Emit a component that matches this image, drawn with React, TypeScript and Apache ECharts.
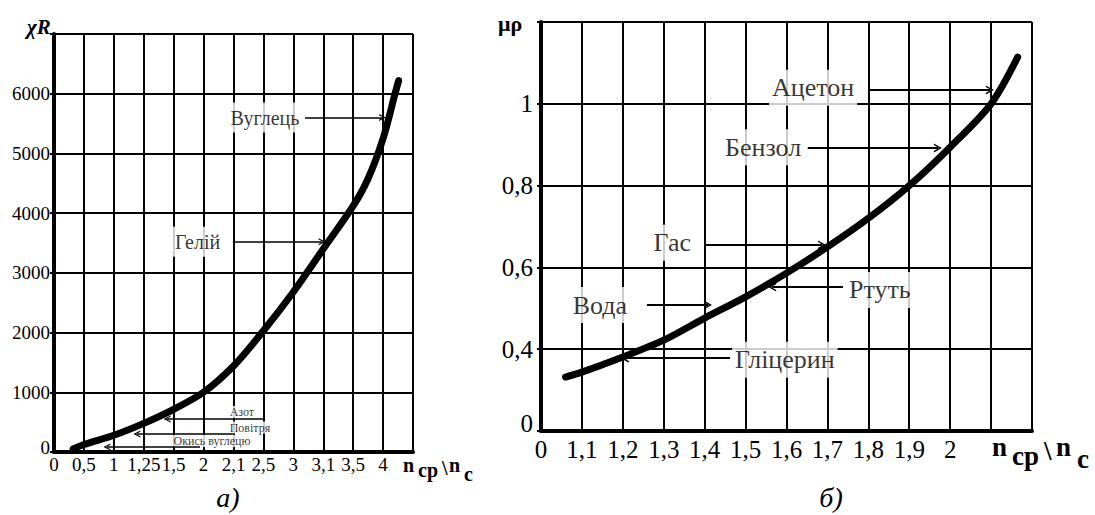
import React, { useEffect, useRef } from 'react';
import * as echarts from 'echarts';

const SERIF = '"Liberation Serif", "Times New Roman", serif';

// ---------- panel a) ----------
const leftTickLabels = ['0', '0,5', '1', '1,25', '1,5', '2', '2,1', '2,5', '3', '3,1', '3,5', '4', ''];
const leftCurveX = [0.64, 1, 2, 3, 4, 5, 6, 7, 8, 9, 10, 10.5, 11, 11.4, 11.52];
const leftCurveY = [50, 125, 280, 480, 715, 1000, 1440, 2030, 2680, 3400, 4120, 4580, 5250, 6000, 6220];
// [name, x, y, fontSize]
const leftNotes: [string, number, number, number][] = [
  ['Вуглець', 7.05, 5600, 20],
  ['Гелій', 4.8, 3520, 20],
  ['Азот', 6.28, 670, 12],
  ['Повітря', 6.55, 410, 12],
  ['Окись вуглецю', 5.28, 185, 12],
];
// [tailX, tipX, y]
const leftArrows: [number, number, number][] = [
  [8.39, 10.98, 5600],
  [5.98, 8.96, 3520],
  [7.05, 3.78, 553],
  [5.98, 2.77, 301],
  [4.88, 1.77, 84],
];

// ---------- panel б) ----------
const rightCurveX = [1.06, 1.1, 1.2, 1.3, 1.4, 1.5, 1.6, 1.7, 1.8, 1.9, 2.0, 2.1, 2.165];
const rightCurveY = [0.332, 0.344, 0.381, 0.422, 0.476, 0.528, 0.586, 0.65, 0.72, 0.8, 0.894, 1.0, 1.114];
const rightNotes: [string, number, number, number][] = [
  ['Ацетон', 1.665, 1.039, 26],
  ['Бензол', 1.543, 0.894, 26],
  ['Гас', 1.321, 0.66, 26],
  ['Ртуть', 1.828, 0.545, 26],
  ['Вода', 1.144, 0.508, 26],
  ['Гліцерин', 1.596, 0.374, 26],
];
const rightArrows: [number, number, number][] = [
  [1.804, 2.097, 1.034],
  [1.652, 1.97, 0.892],
  [1.401, 1.687, 0.655],
  [1.738, 1.565, 0.552],
  [1.259, 1.408, 0.508],
  [1.462, 1.205, 0.378],
];

const CHEVRON = 'path://M0,10 L5,0 L10,10 L8.2,10 L5,3.6 L1.8,10 Z';

function fmtComma(v: number): string {
  const r = Math.round(v * 10) / 10;
  return String(r).replace('.', ',');
}

export default function App() {
  const ref = useRef<HTMLDivElement>(null);

  useEffect(() => {
    if (!ref.current) return;
    const chart = echarts.init(ref.current, undefined, { renderer: 'svg' });

    const thinLine = { color: '#000', width: 2 };
    const axisLineStyle = { show: true, onZero: false, lineStyle: { color: '#000', width: 4 } };

    const arrowMarkLine = (arrows: [number, number, number][], w: number, size: number[]) => ({
      silent: true,
      animation: false,
      symbol: ['none', CHEVRON],
      symbolSize: size,
      label: { show: false },
      lineStyle: { color: '#000', width: w, type: 'solid' },
      itemStyle: { color: '#000' },
      emphasis: { disabled: true },
      data: arrows.map((a) => [{ coord: [a[0], a[2]] }, { coord: [a[1], a[2]] }]),
    });

    const noteSeries = (notes: [string, number, number, number][], idx: number) => ({
      type: 'scatter',
      xAxisIndex: idx,
      yAxisIndex: idx,
      symbolSize: 0,
      silent: true,
      z: 2,
      itemStyle: { color: '#000' },
      data: notes.map((n) => ({
        value: [n[1], n[2]],
        name: n[0],
        label:
          n[3] < 16
            ? { fontSize: n[3], padding: [0, 1], lineHeight: 12 }
            : { fontSize: n[3], padding: [5, 3] },
      })),
      label: {
        show: true,
        position: 'inside',
        formatter: '{b}',
        color: '#000',
        textBorderWidth: 0,
        textBorderColor: 'transparent',
        fontFamily: SERIF,
        backgroundColor: '#fff',
      },
    });

    const option: any = {
      animation: false,
      backgroundColor: '#fff',
      grid: [
        { left: 54, top: 34, width: 359, height: 418 },
        { left: 541, top: 22, width: 491, height: 409 },
      ],
      xAxis: [
        {
          gridIndex: 0,
          type: 'value',
          min: 0,
          max: 12,
          interval: 1,
          axisLine: axisLineStyle,
          axisTick: { show: false },
          splitLine: { show: true, lineStyle: thinLine },
          axisLabel: {
            formatter: (v: number) => leftTickLabels[Math.round(v)] ?? '',
            fontFamily: SERIF,
            fontSize: 19,
            color: '#000',
            margin: 3,
          },
        },
        {
          gridIndex: 1,
          type: 'value',
          min: 1,
          max: 2.2,
          interval: 0.1,
          axisLine: axisLineStyle,
          axisTick: { show: false },
          splitLine: { show: true, lineStyle: thinLine },
          axisLabel: {
            formatter: (v: number) => {
              const r = Math.round(v * 10) / 10;
              if (r < 1.05) return '0';
              if (r > 2.05) return '';
              return fmtComma(r);
            },
            fontFamily: SERIF,
            fontSize: 25,
            color: '#000',
            margin: 6,
          },
        },
      ],
      yAxis: [
        {
          gridIndex: 0,
          type: 'value',
          min: 0,
          max: 7000,
          interval: 1000,
          axisLine: axisLineStyle,
          axisTick: { show: true, length: 4, lineStyle: thinLine },
          splitLine: { show: true, lineStyle: thinLine },
          axisLabel: {
            formatter: (v: number) => (v >= 6500 ? '' : v === 0 ? '{z|0}' : String(v)),
            fontFamily: SERIF,
            fontSize: 19,
            color: '#000',
            margin: 4,
            rich: { z: { fontFamily: SERIF, fontSize: 19, color: '#000', padding: [0, 0, 10, 0] } },
          },
        },
        {
          gridIndex: 1,
          type: 'value',
          min: 0.2,
          max: 1.2,
          interval: 0.2,
          axisLine: axisLineStyle,
          axisTick: { show: true, length: 4, lineStyle: thinLine },
          splitLine: { show: true, lineStyle: thinLine },
          axisLabel: {
            formatter: (v: number) => {
              const r = Math.round(v * 10) / 10;
              if (r < 0.25) return '{z|0}';
              if (r > 1.1) return '';
              return fmtComma(r);
            },
            fontFamily: SERIF,
            fontSize: 25,
            color: '#000',
            margin: 8,
            rich: { z: { fontFamily: SERIF, fontSize: 25, color: '#000', padding: [0, 0, 16, 0] } },
          },
        },
      ],
      series: [
        {
          type: 'line',
          xAxisIndex: 0,
          yAxisIndex: 0,
          data: leftCurveX.map((x, i) => [x, leftCurveY[i]]),
          smooth: 0.3,
          symbol: 'none',
          z: 3,
          lineStyle: { color: '#000', width: 7, cap: 'round' },
          markLine: arrowMarkLine(leftArrows, 1.5, [7, 7]),
        },
        noteSeries(leftNotes, 0),
        {
          type: 'line',
          xAxisIndex: 1,
          yAxisIndex: 1,
          data: rightCurveX.map((x, i) => [x, rightCurveY[i]]),
          smooth: 0.3,
          symbol: 'none',
          z: 3,
          lineStyle: { color: '#000', width: 7, cap: 'round' },
          markLine: arrowMarkLine(rightArrows, 2, [9, 8]),
        },
        noteSeries(rightNotes, 1),
      ],
      graphic: [
        { type: 'text', x: 27, y: 27, style: { text: 'χR', fill: '#000', font: `italic bold 21px ${SERIF}`, verticalAlign: 'middle' } },
        { type: 'text', x: 498, y: 23, style: { text: 'μρ', fill: '#000', font: `bold 22px ${SERIF}`, verticalAlign: 'middle' } },
        // left axis name
        { type: 'text', x: 403, y: 465, style: { text: 'n', fill: '#000', font: `bold 20px ${SERIF}`, verticalAlign: 'middle' } },
        { type: 'text', x: 418, y: 470, style: { text: 'cp', fill: '#000', font: `bold 20px ${SERIF}`, verticalAlign: 'middle' } },
        { type: 'text', x: 442, y: 468, style: { text: '\\', fill: '#000', font: `bold 20px ${SERIF}`, verticalAlign: 'middle' } },
        { type: 'text', x: 449, y: 465, style: { text: 'n', fill: '#000', font: `bold 20px ${SERIF}`, verticalAlign: 'middle' } },
        { type: 'text', x: 464, y: 474, style: { text: 'c', fill: '#000', font: `bold 20px ${SERIF}`, verticalAlign: 'middle' } },
        // right axis name
        { type: 'text', x: 992, y: 447, style: { text: 'n', fill: '#000', font: `bold 27px ${SERIF}`, verticalAlign: 'middle' } },
        { type: 'text', x: 1012, y: 456, style: { text: 'cp', fill: '#000', font: `bold 27px ${SERIF}`, verticalAlign: 'middle' } },
        { type: 'text', x: 1044, y: 451, style: { text: '\\', fill: '#000', font: `bold 27px ${SERIF}`, verticalAlign: 'middle' } },
        { type: 'text', x: 1056, y: 447, style: { text: 'n', fill: '#000', font: `bold 27px ${SERIF}`, verticalAlign: 'middle' } },
        { type: 'text', x: 1077, y: 459, style: { text: 'c', fill: '#000', font: `bold 27px ${SERIF}`, verticalAlign: 'middle' } },
        // captions
        { type: 'text', x: 228, y: 497, style: { text: 'а)', fill: '#000', font: `italic 28px ${SERIF}`, align: 'center', verticalAlign: 'middle' } },
        { type: 'text', x: 831, y: 497, style: { text: 'б)', fill: '#000', font: `italic 28px ${SERIF}`, align: 'center', verticalAlign: 'middle' } },
      ],
    };

    chart.setOption(option);
    return () => chart.dispose();
  }, []);

  return (
    <div
      ref={ref}
      style={{ position: 'absolute', left: 0, top: 0, width: 1095, height: 515, background: '#fff' }}
    />
  );
}
